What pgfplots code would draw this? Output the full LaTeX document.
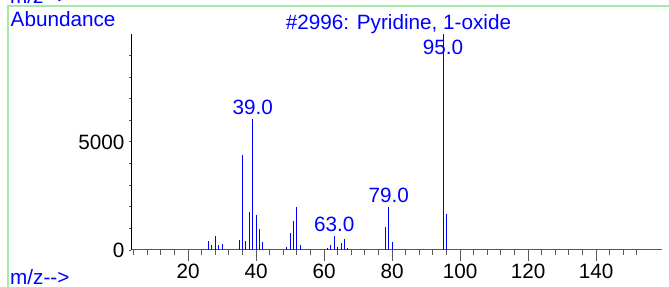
\documentclass[border=0pt]{standalone}
\usepackage{fontspec}
\setmainfont{Liberation Sans}
\usepackage{pgfplots}
\pgfplotsset{compat=1.18}
\definecolor{framegreen}{RGB}{165,235,165}
\definecolor{pk}{RGB}{0,0,255}
\begin{document}
\fontsize{20.7bp}{24bp}\selectfont
\begin{tikzpicture}
\path[use as bounding box] (0bp,0bp) rectangle (669bp,287bp);
\draw[framegreen, line width=1.5bp] (8bp,-2bp) -- (8bp,281bp) -- (671bp,281bp);
\node[anchor=base west, text=pk, inner sep=0] at (10bp,283.5bp) {m/z-{}->};
\node[anchor=base west, text=pk, inner sep=0] at (10.5bp,260.5bp) {Abundance};
\node[anchor=base, text=pk, inner sep=0] at (398.5bp,257.5bp) {\#2996: Pyridine, 1-oxide};
\node[anchor=base west, text=pk, inner sep=0] at (10bp,3bp) {m/z-{}->};
\begin{axis}[
  at={(131bp,37bp)}, anchor=south west,
  scale only axis, width=531bp, height=216bp,
  xmin=3.2, xmax=159.4, ymin=0, ymax=10000,
  axis x line=bottom, axis y line=none,
  axis line style={-, black!65, line width=1bp},
  xtick={20,40,...,140}, minor xtick={4,8,...,152},
  ytick=\empty,
  tick align=outside,
  major tick length=11bp, minor tick length=5bp,
  tick style={black!65, line width=1bp},
  xticklabel style={font=\fontsize{20.7bp}{24bp}\selectfont, anchor=north, inner sep=0pt, yshift=-3bp},
  /pgf/number format/assume math mode=true,
  clip=false,
]
\addplot[ycomb, pk, line width=1.1bp, mark=none] coordinates {
(26,415) (27,230) (28,650) (29,245) (30,280)
(35,480) (36,4420) (37,400) (38,1740) (39,6050) (40,1640) (41,955) (42,370)
(49,120) (50,800) (51,1330) (52,2010) (53,250)
(61,80) (62,230) (63,660) (64,120) (65,310) (66,510) (67,100)
(78,1050) (79,1975) (80,385)
(95,9999) (96,1670)
};
\node[anchor=base, text=pk, inner sep=0, font=\fontsize{20.7bp}{24bp}\selectfont] at (axis cs:39,6280) {39.0};
\node[anchor=base, text=pk, inner sep=0, font=\fontsize{20.7bp}{24bp}\selectfont] at (axis cs:63.0,860) {63.0};
\node[anchor=base, text=pk, inner sep=0, font=\fontsize{20.7bp}{24bp}\selectfont] at (axis cs:79,2190) {79.0};
\node[anchor=base, text=pk, inner sep=0, font=\fontsize{20.7bp}{24bp}\selectfont] at (axis cs:95,9050) {95.0};
\end{axis}
\begin{axis}[
  at={(131bp,37bp)}, anchor=south west,
  scale only axis, width=531bp, height=216bp,
  xmin=3.2, xmax=159.4, ymin=0, ymax=10000,
  axis x line=none, axis y line=left,
  axis line style={-, black, line width=1bp},
  xtick=\empty,
  ytick={0,5000}, minor ytick={1000,2000,...,9000},
  scaled y ticks=false,
  tick align=outside,
  major tick length=2.5bp, minor tick length=2.5bp,
  tick style={black!65, line width=1bp},
  yticklabel style={font=\fontsize{20.7bp}{24bp}\selectfont, anchor=east, inner sep=0pt, xshift=-4bp},
  /pgf/number format/assume math mode=true,
  /pgf/number format/1000 sep={},
]
\end{axis}
\end{tikzpicture}
\end{document}
